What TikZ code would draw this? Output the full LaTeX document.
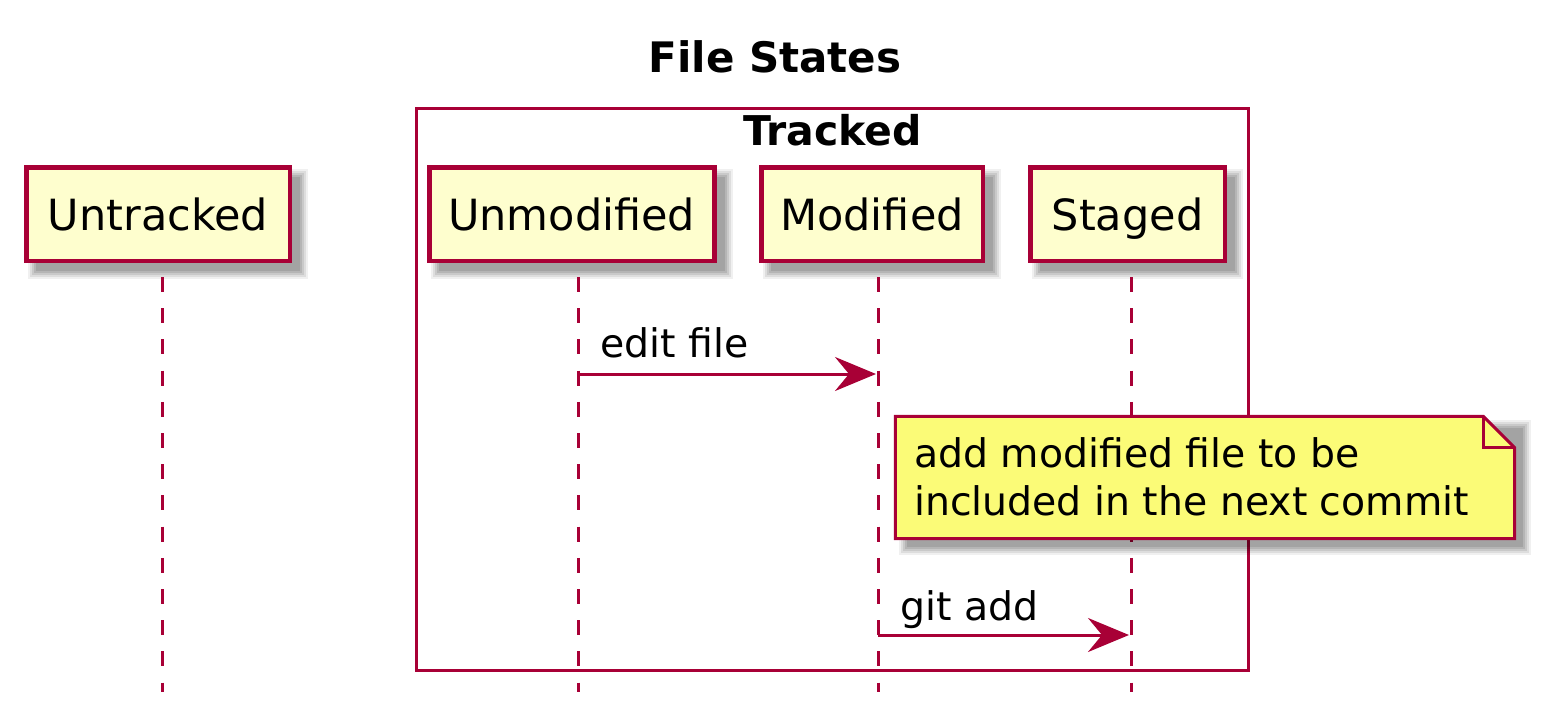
\documentclass[tikz,border=0pt]{standalone}
\usepackage{fontspec}
\setmainfont{DejaVu Sans}
\usetikzlibrary{arrows.meta,backgrounds}
\definecolor{pred}{HTML}{A80036}
\definecolor{pfill}{HTML}{FEFECE}
\definecolor{nfill}{HTML}{FBFB77}
\tikzset{
  part/.style={draw=pred,line width=4.5pt,fill=pfill,inner sep=0pt,text height=32pt,text depth=0pt,minimum height=93.5pt,font=\fontsize{43}{50}\selectfont},
  life/.style={draw=pred,line width=3pt,dash pattern=on 15pt off 16.2pt},
  msg/.style={draw=pred,line width=3pt,-{Stealth[length=41pt,width=34pt,inset=14pt]}},
  lbl/.style={inner sep=0pt,anchor=base west,font=\fontsize{39.4}{48}\selectfont},
  grp/.style={draw=pred,line width=3pt,inner sep=0pt},
}
\newcommand\softshadow[2]{%
  \foreach \e/\o in {6/0.06,4/0.08,2/0.09,0/0.1,-2/0.1}{%
    \fill[black,opacity=\o] ([shift={(10-\e,10-\e)}]#1) rectangle ([shift={(10+\e,10+\e)}]#2);}}
\begin{document}
\begin{tikzpicture}[x=1pt,y=-1pt]
\useasboundingbox (0,0) rectangle (1550,725);
% title
\node[inner sep=0pt,anchor=base,font=\bfseries\fontsize{42}{50}\selectfont] (title) at (775,73) {File States};
% group box
\node[grp,minimum width=832pt,minimum height=562pt] (tracked) at (832.5,389.5) {};
\node[inner sep=0pt,anchor=base,font=\bfseries\fontsize{41}{48}\selectfont] (trackedlbl) at (832.5,145) {Tracked};
% lifelines
\coordinate (l1t) at (162,277); \coordinate (l1b) at (162,692);
\coordinate (l2t) at (578,277); \coordinate (l2b) at (578,692);
\coordinate (l3t) at (878,277); \coordinate (l3b) at (878,692);
\coordinate (l4t) at (1131,277); \coordinate (l4b) at (1131,692);
\draw[life] (l1t) -- (l1b);
\draw[life] (l2t) -- (l2b);
\draw[life] (l3t) -- (l3b);
\draw[life] (l4t) -- (l4b);
% participants
\node[part,minimum width=263.5pt] (untracked) at (158,214) {Untracked};
\node[part,minimum width=285pt] (unmodified) at (571.75,214) {Unmodified};
\node[part,minimum width=221.5pt] (modified) at (872,214) {Modified};
\node[part,minimum width=194.5pt] (staged) at (1127.5,214) {Staged};
\begin{pgfonlayer}{background}
  \softshadow{untracked.north west}{untracked.south east}
  \softshadow{unmodified.north west}{unmodified.south east}
  \softshadow{modified.north west}{modified.south east}
  \softshadow{staged.north west}{staged.south east}
\end{pgfonlayer}
% message 1
\coordinate (m1a) at (578,374); \coordinate (m1b) at (876,374);
\draw[msg] (m1a) -- (m1b);
\node[lbl] (m1lbl) at (600,357) {edit file};
% note
\node[inner sep=0pt,minimum width=619pt,minimum height=122pt] (note) at (1205,477.5) {};
\softshadow{note.north west}{note.south east}
\draw[draw=pred,line width=3pt,fill=nfill,line join=miter]
  (note.north west) -- ([shift={(-31.5,0)}]note.north east) -- ([shift={(0,31.5)}]note.north east)
  -- (note.south east) -- (note.south west) -- cycle;
\draw[draw=pred,line width=3pt,line join=miter]
  ([shift={(-31.5,0)}]note.north east) -- ([shift={(-31.5,31.5)}]note.north east) -- ([shift={(0,31.5)}]note.north east);
\node[lbl] (n1) at (914,467) {add modified file to be};
\node[lbl] (n2) at (914,515) {included in the next commit};
% message 2
\coordinate (m2a) at (878,635); \coordinate (m2b) at (1129,635);
\draw[msg] (m2a) -- (m2b);
\node[lbl] (m2lbl) at (900,620) {git add};
\end{tikzpicture}
\end{document}
